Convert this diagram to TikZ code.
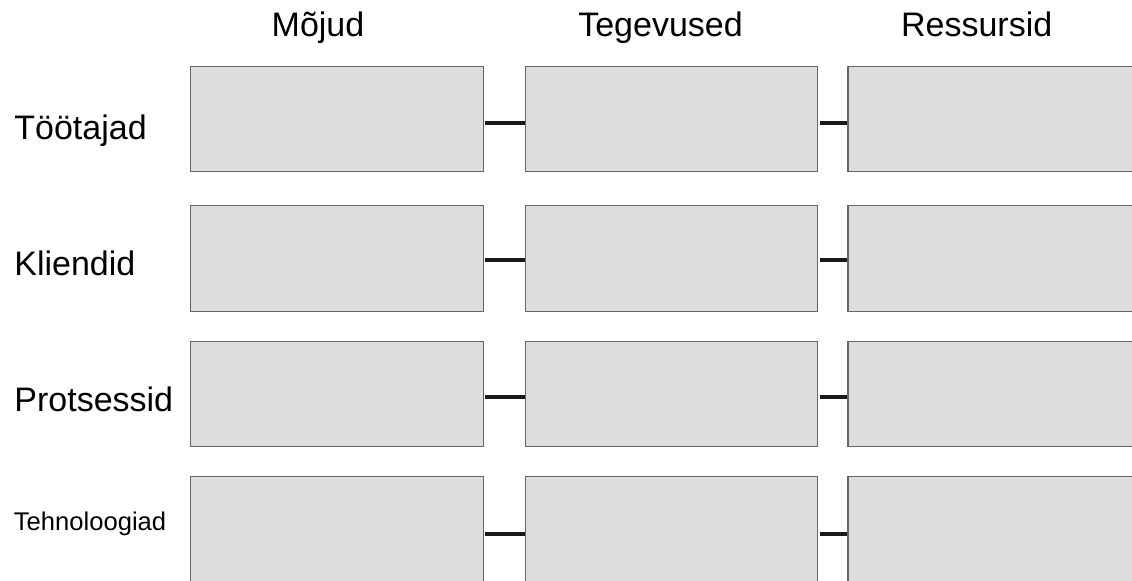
\documentclass[tikz,border=0pt]{standalone}
\usepackage{fontspec}
\setmainfont{Liberation Sans}
\definecolor{boxgray}{RGB}{221,221,221}
\definecolor{linkgray}{RGB}{26,26,26}
\begin{document}
\begin{tikzpicture}[x=0.5pt, y=-0.5pt,
    main node/.style={rectangle, draw=black!60, line width=0.6pt, fill=boxgray, minimum width=148pt, minimum height=52.75pt, inner sep=0pt, anchor=north west},
    link/.style={line width=2pt, draw=linkgray, shorten <=0.8pt}]
        \tikzstyle{every node}=[font=\fontsize{17}{20}\selectfont]
        \useasboundingbox (0,0) rectangle (1132,580);

          % column headings
          \node[anchor=base] (mojud) at (318,36.5) {Mõjud};
          \node[anchor=base] (tegevused) at (660.5,36.5) {Tegevused};
          \node[anchor=base] (ressursid) at (976.7,36.5) {Ressursid};

          % row headings
          \node[anchor=base west, inner sep=0pt] (tootajad) at (14,139) {Töötajad};
          \node[anchor=base west, inner sep=0pt] (kliendid) at (14,275) {Kliendid};
          \node[anchor=base west, inner sep=0pt] (protsessid) at (14,411.7) {Protsessid};
          \node[anchor=base west, inner sep=0pt, font=\fontsize{12.8}{15}\selectfont] (tehnoloogiad) at (13.5,530) {Tehnoloogiad};

          % three boxes per row, joined by short bars
          \foreach \r/\y/\d in {1/65.7/1.8, 2/205/1.0, 3/340.7/1.4, 4/475.7/2.4} {
            \node[main node, minimum width=146.5pt] (m\r) at (189.5,\y) {};
            \node[main node, minimum width=146pt] (t\r) at (524.7,\y) {};
            \node[main node] (s\r) at (847.3,\y) {};
            \draw[link] ([yshift=-\d pt]m\r.east) -- ([yshift=-\d pt]t\r.west);
            \draw[link] ([yshift=-\d pt]t\r.east) -- ([yshift=-\d pt]s\r.west);
          }

        \end{tikzpicture}
\end{document}
